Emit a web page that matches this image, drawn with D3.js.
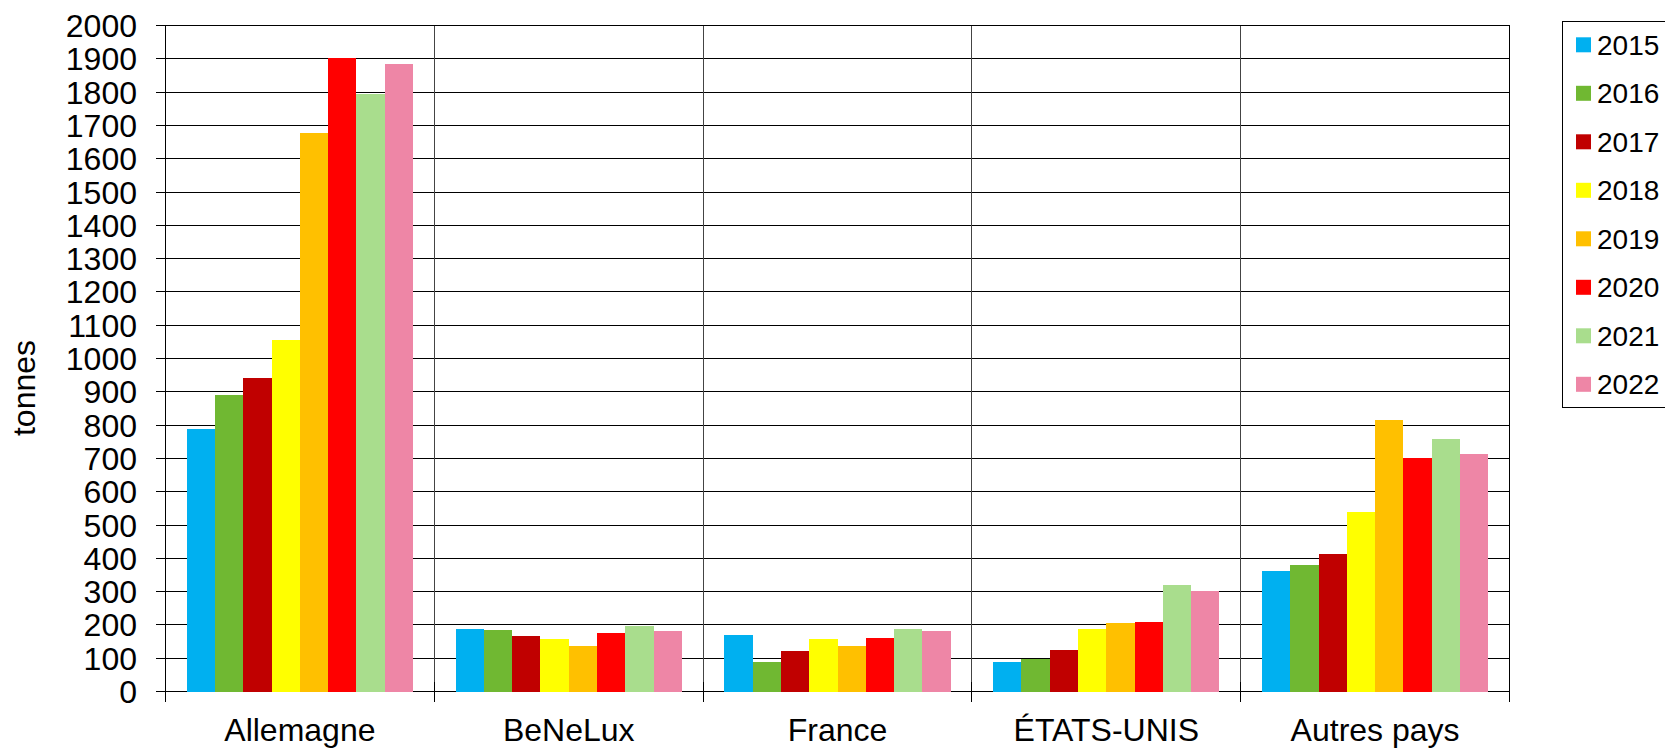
<!doctype html>
<html>
  <head>
    <script src="https://cdnjs.cloudflare.com/ajax/libs/d3/7.8.5/d3.min.js"></script>
    <style>
      body { margin: 0; background: #fff; }
      svg { display: block; font-family: "Liberation Sans", Arial, sans-serif; }
    </style>
  </head>
  <body>
    <svg></svg>
    <script>
      var width = 1665,
          height = 748;

      var categories = ["Allemagne", "BeNeLux", "France", "ÉTATS-UNIS", "Autres pays"];
      var years = ["2015", "2016", "2017", "2018", "2019", "2020", "2021", "2022"];
      var colors = ["#00B0F0", "#70B832", "#C00000", "#FFFF00", "#FFC000", "#FF0000", "#A9DD8D", "#EE86A6"];

      // tonnes par année, dans l'ordre des catégories
      var v2015 = [787, 187, 170, 89, 362];
      var v2016 = [891, 185, 89, 98, 379];
      var v2017 = [941, 167, 123, 124, 412];
      var v2018 = [1055, 157, 158, 188, 539];
      var v2019 = [1677, 138, 136, 206, 816];
      var v2020 = [1903, 177, 160, 208, 702];
      var v2021 = [1795, 198, 187, 321, 757];
      var v2022 = [1884, 183, 181, 301, 714];
      var series = [v2015, v2016, v2017, v2018, v2019, v2020, v2021, v2022];

      var yTicks = d3.range(0, 2001, 100);

      var pLeft = 165.5, pRight = 1509.5, pTop = 25.5, pBottom = 691.5;

      var svg = d3.select("svg").attr("width", width).attr("height", height);

      var x0 = d3.scaleBand().domain(categories).range([pLeft, pRight]).padding(0);
      var x1 = d3.scaleBand().domain(years).range([0, x0.bandwidth()])
          .paddingInner(0).paddingOuter(0.75);
      var y = d3.scaleLinear().domain([0, 2000]).range([pBottom, pTop]);

      var rows = [];
      categories.forEach(function(c, i) {
        years.forEach(function(yr, j) {
          rows.push({cat: c, year: yr, value: series[j][i], color: colors[j]});
        });
      });

      // grille horizontale
      svg.append("g").selectAll("line").data(yTicks)
        .enter().append("line")
          .attr("x1", pLeft - 10).attr("x2", pRight)
          .attr("y1", d => Math.round(y(d) - 0.5) + 0.5)
          .attr("y2", d => Math.round(y(d) - 0.5) + 0.5)
          .attr("stroke", "#000").attr("stroke-width", 1)
          .attr("shape-rendering", "crispEdges");

      // barres
      svg.append("g").selectAll("rect").data(rows)
        .enter().append("rect")
          .attr("x", d => x0(d.cat) + x1(d.year))
          .attr("width", x1.bandwidth())
          .attr("y", d => y(d.value))
          .attr("height", d => y(0) - y(d.value))
          .attr("fill", d => d.color)
          .attr("shape-rendering", "crispEdges");

      // séparateurs verticaux + axe gauche
      var seps = categories.map(c => x0(c)).concat([pRight]);
      svg.append("g").selectAll("line").data(seps)
        .enter().append("line")
          .attr("x1", d => Math.round(d - 0.5) + 0.5)
          .attr("x2", d => Math.round(d - 0.5) + 0.5)
          .attr("y1", pTop)
          .attr("y2", (d, i) => i == seps.length - 1 ? pBottom : pBottom + 10)
          .attr("stroke", (d, i) => (i == 0 || i == seps.length - 1) ? "#000" : "#444")
          .attr("stroke-width", 1)
          .attr("shape-rendering", "crispEdges");
      // coches croisées sur l'axe des catégories
      svg.append("g").selectAll("line").data(seps)
        .enter().append("line")
          .attr("x1", d => Math.round(d - 0.5) + 0.5)
          .attr("x2", d => Math.round(d - 0.5) + 0.5)
          .attr("y1", pBottom - 10).attr("y2", pBottom + 10)
          .attr("stroke", "#000").attr("stroke-width", 1)
          .attr("shape-rendering", "crispEdges");

      // étiquettes axe Y
      svg.append("g").selectAll("text").data(yTicks)
        .enter().append("text")
          .text(d => d)
          .attr("x", 137)
          .attr("y", d => y(d))
          .attr("dy", "0.36em")
          .attr("text-anchor", "end")
          .attr("font-size", "32px")
          .attr("fill", "#000");

      // étiquettes catégories
      svg.append("g").selectAll("text").data(categories)
        .enter().append("text")
          .text(d => d)
          .attr("x", d => x0(d) + x0.bandwidth() / 2)
          .attr("y", 741)
          .attr("text-anchor", "middle")
          .attr("font-size", "32px")
          .attr("fill", "#000");

      // titre axe Y
      svg.append("text")
          .text("tonnes")
          .attr("transform", "translate(35,388) rotate(-90)")
          .attr("text-anchor", "middle")
          .attr("font-size", "32px")
          .attr("fill", "#000");

      // légende
      var legend = svg.append("g");
      legend.append("rect")
          .attr("x", 1562.5).attr("y", 21.5)
          .attr("width", 120).attr("height", 386)
          .attr("fill", "#fff").attr("stroke", "#000").attr("stroke-width", 1)
          .attr("shape-rendering", "crispEdges");
      var item = legend.selectAll("g.item").data(years)
        .enter().append("g")
          .attr("class", "item")
          .attr("transform", (d, i) => "translate(1576," + (44.8 + i * 48.5) + ")");
      item.append("rect")
          .attr("x", 0).attr("y", -7.5)
          .attr("width", 15).attr("height", 15)
          .attr("fill", (d, i) => colors[i]);
      item.append("text")
          .text(d => d)
          .attr("x", 21)
          .attr("dy", "0.36em")
          .attr("font-size", "28px")
          .attr("fill", "#000");
    </script>
  </body>
</html>
